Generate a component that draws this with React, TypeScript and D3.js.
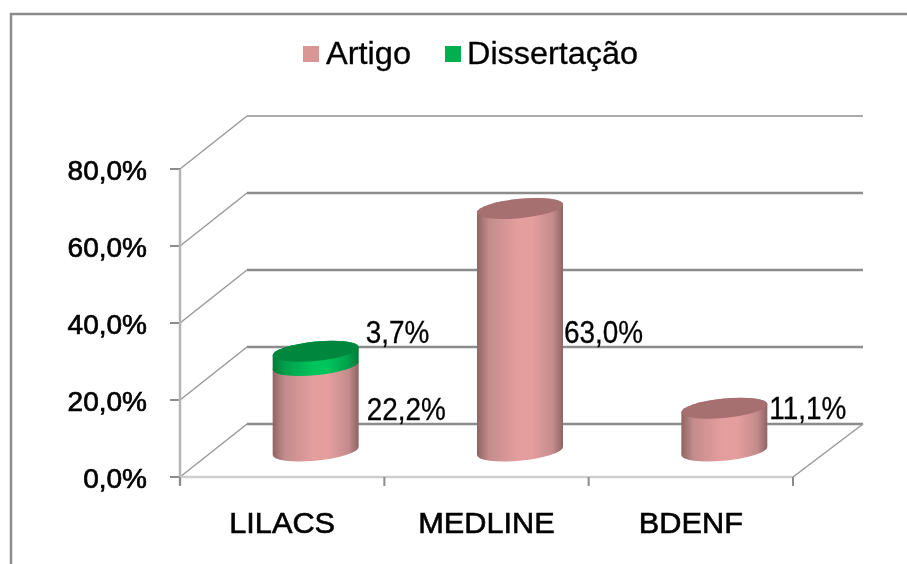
import * as d3 from "d3";
import React from "react";

const categories = ["LILACS", "MEDLINE", "BDENF"];
const seriesNames = ["Artigo", "Dissertação"];
const artigo = [22.2, 63.0, 11.1];
const dissertacao = [3.7, 0, 0];
const yTicks = [0, 20, 40, 60, 80];

const width = 907;
const height = 564;
const font = "Liberation Sans, Arial, sans-serif";
const grey = "#8c8c8c";

const fmt = d3.formatLocale({
  decimal: ",",
  thousands: ".",
  grouping: [3],
  currency: ["", ""],
})
  .format(".1f");
const pct = (v: number) => `${fmt(v)}%`;

// 3D box of the plot: front plane plus a depth offset to the back wall
const depth = { x: 67, y: -53 };
const backRight = 863;
const xScale = d3.scaleBand<string>().domain(categories).range([180, 793]);
const yScale = d3.scaleLinear().domain([0, 80]).range([477, 169]);

const rx = 43;
const ry = 9.7;
const tilt = -5.4;
const baseLift = 26; // cylinders stand in the middle of the floor

// where Excel left the data labels, relative to the right edge / segment top
const labelPos = [
  { series: 0, i: 0, dx: 8, dy: 54 },
  { series: 1, i: 0, dx: 7, dy: -8 },
  { series: 0, i: 1, dx: 1, dy: 135 },
  { series: 0, i: 2, dx: 2, dy: 11 },
];

const cylinderPath = (y0: number, y1: number) =>
  `M${-rx},${y0}A${rx},${ry} 0 0 0 ${rx},${y0}L${rx},${y1}A${rx},${ry} 0 0 0 ${-rx},${y1}Z`;

function Cylinder({ cx, y0, y1, fill, cap, top }: any) {
  return (
    <g transform={`translate(${cx},0) skewY(${tilt})`}>
      <path d={cylinderPath(y0, y1)} fill={`url(#${fill})`} />
      {top && <ellipse cx={0} cy={y1} rx={rx} ry={ry} fill={cap} />}
    </g>
  );
}

function Shade({ id, edge, near, mid }: { id: string; edge: string; near: string; mid: string }) {
  return (
    <linearGradient id={id} x1="0" x2="1" y1="0" y2="0">
      <stop offset="0" stopColor={edge} />
      <stop offset="0.14" stopColor={near} />
      <stop offset="0.48" stopColor={mid} />
      <stop offset="0.64" stopColor={mid} />
      <stop offset="0.88" stopColor={near} />
      <stop offset="1" stopColor={edge} />
    </linearGradient>
  );
}

// squeezed or stretched text, the picture was resized unevenly
function Label({ x, y, size, sx, anchor, bold, children }: any) {
  return (
    <text
      transform={`translate(${x},${y}) scale(${sx},1)`}
      textAnchor={anchor}
      fontSize={size}
      stroke="#000"
      strokeWidth={bold}
    >
      {children}
    </text>
  );
}

export default function App() {
  const series = [artigo, dissertacao];
  const floorY = yScale(0);
  const right = xScale.range()[1];
  const left = xScale.range()[0];
  const xTicks = [...categories.map((c) => xScale(c)!), right];

  return (
    <svg
      width={width}
      height={height}
      style={{ position: "absolute", left: 0, top: 0, background: "#fff" }}
      fontFamily={font}
    >
      <defs>
        <Shade id="pink" edge="#8f6464" near="#c48c8c" mid="#e59e9e" />
        <Shade id="green" edge="#007a38" near="#00a04a" mid="#00c45c" />
        <filter id="soft" x="-5%" y="-5%" width="110%" height="110%">
          <feGaussianBlur stdDeviation="0.45" />
        </filter>
      </defs>

      <g filter="url(#soft)">
        {/* frame, only top and left survive in the picture */}
        <path d={`M11,${height}V14H${width}`} fill="none" stroke={grey} strokeWidth={2.5} />

        {/* walls */}
        {yTicks.map((t) => {
          const y = yScale(t);
          return (
            <g key={t}>
              <path
                d={`M${left},${y}L${left + depth.x},${y + depth.y}`}
                fill="none"
                stroke="#999"
                strokeWidth={1.5}
              />
              <line
                x1={left + depth.x}
                x2={backRight}
                y1={y + depth.y}
                y2={y + depth.y}
                stroke={t === 80 ? "#aaa" : grey}
                strokeWidth={t === 80 ? 2 : 2.5}
              />
              <line x1={170} x2={left} y1={y} y2={y} stroke={grey} strokeWidth={2} />
              <Label x={147} y={y + 11} size={28} sx={1} anchor="end" bold={0.7}>
                {pct(t)}
              </Label>
            </g>
          );
        })}

        {/* axes and floor */}
        <line x1={left} x2={left} y1={yScale(80)} y2={floorY + 8} stroke="#b4b4b4" strokeWidth={2.5} />
        <line x1={left} x2={right} y1={floorY} y2={floorY} stroke="#cfcfcf" strokeWidth={2.5} />
        <line
          x1={right}
          x2={backRight}
          y1={floorY}
          y2={floorY + depth.y}
          stroke="#999"
          strokeWidth={1.5}
        />
        {xTicks.map((x) => (
          <line key={x} x1={x} x2={x} y1={floorY} y2={floorY + 9} stroke={grey} strokeWidth={2} />
        ))}

        {/* cylinders, stacked */}
        {categories.map((c, i) => {
          const cx = xScale(c)! + xScale.bandwidth() / 2 + depth.x / 2;
          const h = (v: number) => yScale(v) - baseLift;
          const a = artigo[i];
          const d = dissertacao[i];
          return (
            <g key={c}>
              <Cylinder cx={cx} y0={h(0)} y1={h(a)} fill="pink" cap="#a66f6f" top={d === 0} />
              {d > 0 && (
                <Cylinder cx={cx} y0={h(a)} y1={h(a + d)} fill="green" cap="#00863e" top />
              )}
            </g>
          );
        })}

        {/* data labels */}
        {labelPos.map(({ series: s, i, dx, dy }) => {
          const c = categories[i];
          const cx = xScale(c)! + xScale.bandwidth() / 2 + depth.x / 2;
          const stackedBelow = s === 1 ? artigo[i] : 0;
          const top = yScale(stackedBelow + series[s][i]) - baseLift;
          return (
            <Label key={`${s}-${i}`} x={cx + rx + dx} y={top + dy} size={31} sx={0.9} bold={0.3}>
              {pct(series[s][i])}
            </Label>
          );
        })}

        {/* category labels */}
        {categories.map((c) => (
          <Label
            key={c}
            x={xScale(c)! + xScale.bandwidth() / 2}
            y={533}
            size={29}
            sx={1.06}
            anchor="middle"
            bold={0.6}
          >
            {c}
          </Label>
        ))}

        {/* legend */}
        <rect x={303} y={46} width={16} height={16} fill="#d99694" />
        <Label x={326} y={64} size={31} sx={1.05} bold={0.3}>
          {seriesNames[0]}
        </Label>
        <rect x={445} y={46} width={16} height={16} fill="#00b050" />
        <Label x={467} y={64} size={31} sx={1.045} bold={0.3}>
          {seriesNames[1]}
        </Label>
      </g>
    </svg>
  );
}
